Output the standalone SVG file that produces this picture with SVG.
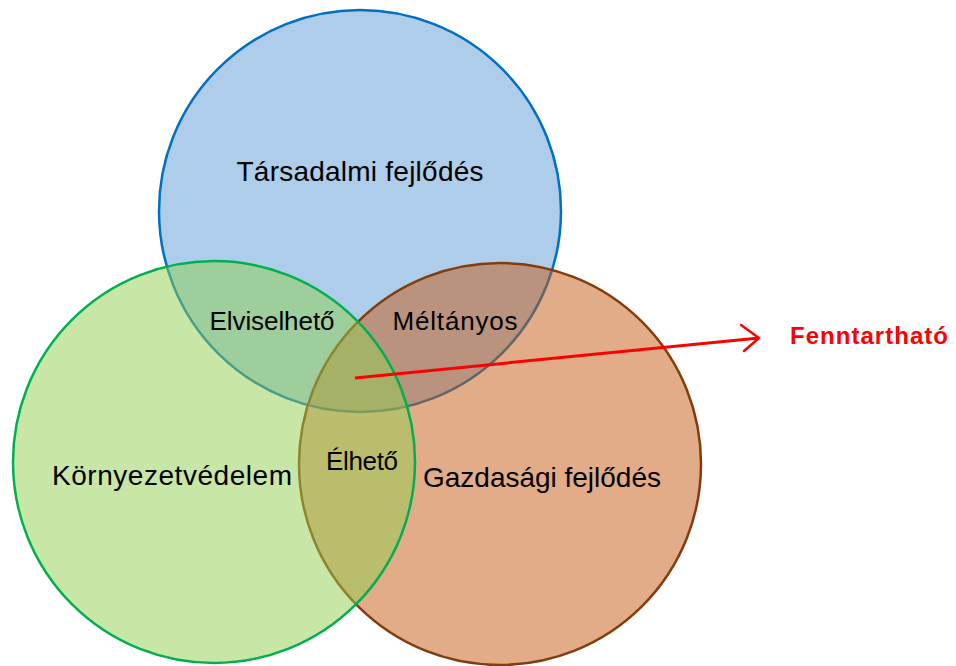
<svg xmlns="http://www.w3.org/2000/svg" width="956" height="666" viewBox="0 0 956 666">
  <defs>
    <style>
      .set { stroke-width: 2.5; fill-opacity: 0.5; }
      .lbl { font-family: "Liberation Sans", Arial, sans-serif; fill: #000; text-anchor: middle; }
      .big { font-size: 28px; }
      .mid { font-size: 26px; }
      .key { font-family: "Liberation Sans", Arial, sans-serif; font-size: 24px; font-weight: bold; fill: #FF0000; }
    </style>
  </defs>
  <rect width="956" height="666" fill="#FFFFFF"/>

  <!-- three overlapping sets, drawn bottom to top -->
  <g id="tarsadalmi">
    <circle class="set" cx="360" cy="211" r="201" fill="#5B9BD5" stroke="#0070C0"/>
  </g>
  <g id="gazdasagi">
    <circle class="set" cx="500" cy="464" r="201" fill="#C55A11" stroke="#843C0C"/>
  </g>
  <g id="kornyezet">
    <circle class="set" cx="214" cy="462" r="201" fill="#92D050" stroke="#00B050"/>
  </g>

  <!-- set and intersection labels -->
  <g id="labels">
    <text class="lbl big" x="360" y="181" textLength="247">Társadalmi fejlődés</text>
    <text class="lbl mid" x="272" y="330" textLength="125">Elviselhető</text>
    <text class="lbl mid" x="455" y="330" textLength="125">Méltányos</text>
    <text class="lbl big" x="172" y="485" textLength="240">Környezetvédelem</text>
    <text class="lbl mid" x="362" y="470" textLength="72">Élhető</text>
    <text class="lbl big" x="542" y="487" textLength="238">Gazdasági fejlődés</text>
  </g>

  <!-- pointer from the common core to its name -->
  <g id="connectors">
    <line x1="355" y1="378" x2="759" y2="338" stroke="#FF0000" stroke-width="3"/>
    <polyline points="741,325 759,338 744,351" fill="none" stroke="#FF0000" stroke-width="2.5" stroke-linecap="round" stroke-linejoin="round"/>
  </g>

  <g id="fenntarthato">
    <text class="key" x="790" y="344" textLength="158">Fenntartható</text>
  </g>
</svg>
